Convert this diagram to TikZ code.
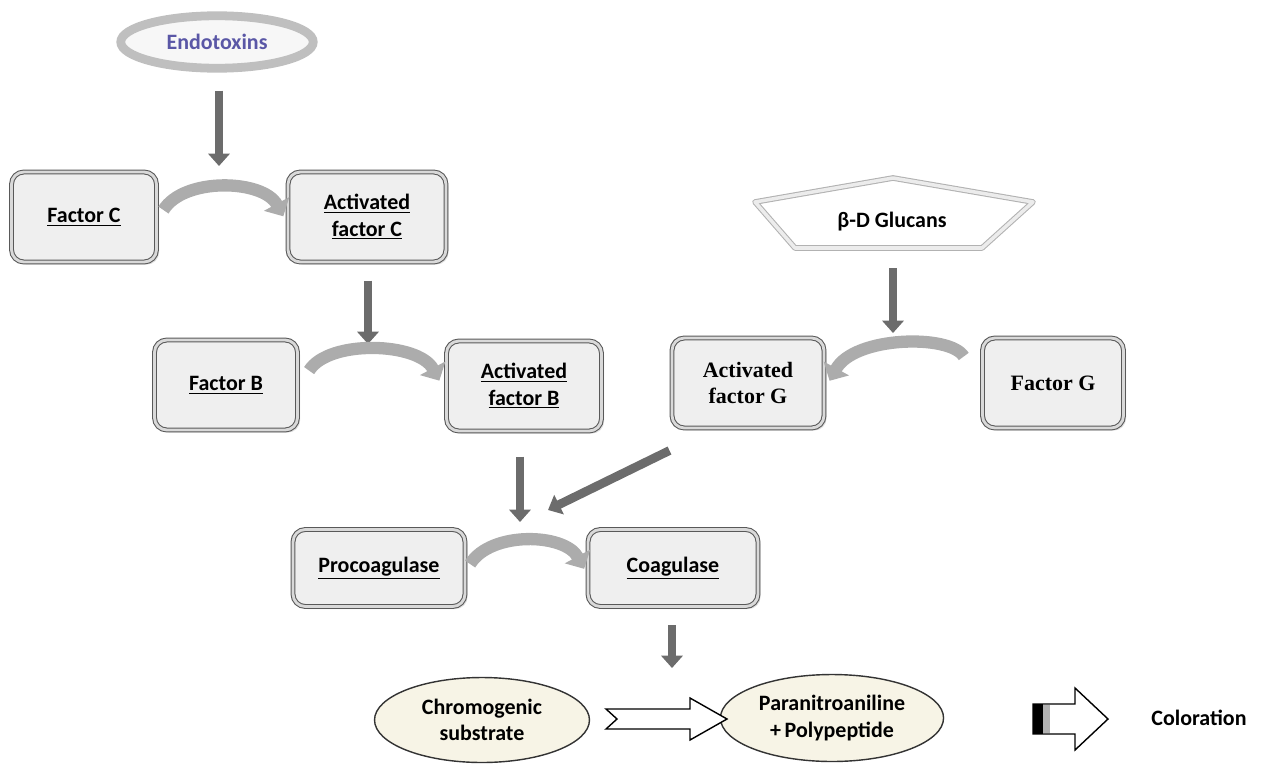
\documentclass[tikz,border=0pt]{standalone}
\usepackage{fontspec}
\setmainfont{Carlito}
\newfontfamily\timesfont{Liberation Serif}
\usepackage{tikz}
\usetikzlibrary{shapes}
\usetikzlibrary{arrows.meta}
\usetikzlibrary{shadows}
\definecolor{endoblue}{HTML}{5A57A6}
\definecolor{boxfill}{HTML}{EFEFEF}
\definecolor{cream}{HTML}{F7F4E6}
\definecolor{arrowgray}{HTML}{6C6C6C}
\tikzstyle{factor}=[rectangle,rounded corners=7pt,draw=gray!70!black,double=gray!30,double distance=1.6pt,line width=0.6pt,fill=boxfill,minimum height=1.8cm,align=center,font=\bfseries\fontsize{12.5}{15}\selectfont,drop shadow={opacity=0.25,shadow xshift=1.5pt,shadow yshift=-1.5pt}]
\tikzstyle{endo}=[ellipse,draw=gray!50,line width=5pt,fill=gray!6,minimum width=3.85cm,minimum height=1.05cm,text=endoblue,font=\bfseries\fontsize{12.5}{15}\selectfont]
\tikzstyle{product}=[ellipse,draw=black!80,line width=0.8pt,fill=cream,align=center,font=\bfseries\fontsize{12.5}{15}\selectfont]
\tikzstyle{down}=[draw=arrowgray,line width=5pt,-{Triangle[length=7pt,width=12pt]}]
\tikzstyle{turn}=[draw=gray!65,line width=7pt,-{Triangle[length=8pt,width=16pt]}]
\tikzstyle{glushape}=[draw=gray!60,double=gray!15,double distance=2pt,line width=0.6pt,fill=white,line join=round]
\tikzstyle{openarrow}=[draw=black,line width=0.8pt,fill=white,line join=miter]

\begin{document}
\begin{tikzpicture}[x=0.02cm,y=-0.02cm]
      \useasboundingbox (0,0) rectangle (1274,764);
      % endotoxin pathway
      \node[endo] at (217,42) (endo) {Endotoxins};
      \node[factor,minimum width=2.9cm] at (84,217) (fc) {\underline{Factor C}};
      \node[factor,minimum width=3.16cm] at (367,217) (afc) {\underline{Activated}\\\underline{factor C}};
      \node[factor,minimum width=2.86cm] at (226,385) (fb) {\underline{Factor B}};
      \node[factor,minimum width=3.1cm] at (524,386) (afb) {\underline{Activated}\\\underline{factor B}};
      % glucan pathway
      \draw[glushape] (755,202) -- (893,178) -- (1033,202) -- (982,248) -- (795,248) -- cycle;
      \node[minimum height=1.12cm,font=\bfseries\fontsize{12.5}{15}\selectfont] at (892,222) (glu) {β-D Glucans};
      \node[factor,minimum width=3.04cm,font=\timesfont\bfseries\fontsize{12.5}{15}\selectfont] at (748,383) (afg) {Activated\\factor G};
      \node[factor,minimum width=2.82cm,font=\timesfont\bfseries\fontsize{12.5}{15}\selectfont] at (1053,383) (fg) {Factor G};
      % common part
      \node[factor,minimum width=3.44cm,minimum height=1.54cm] at (379,568) (proc) {\underline{Procoagulase}};
      \node[factor,minimum width=3.4cm,minimum height=1.54cm] at (673,568) (coag) {\underline{Coagulase}};
      \node[product,minimum width=4.3cm,minimum height=1.7cm] at (482,720) (chrom) {Chromogenic\\substrate};
      \node[product,minimum width=3.72cm,minimum height=1.74cm] at (832,718) (pna) {Paranitroaniline\\+\,Polypeptide};
      \node[font=\bfseries\fontsize{12.5}{15}\selectfont] at (1199,718) (col) {Coloration};
      % ends of the straight arrows
      \coordinate (c1) at (219,166);
      \coordinate (c2) at (368,344);
      \coordinate (c3) at (520,522);
      \coordinate (c4) at (893,333);
      \coordinate (c5) at (548,510);
      \coordinate (c6) at (672,668);
      \draw[down] (endo.south -| c1) ++(0,18) -- (c1);
      \draw[down] (afc.south -| c2) ++(0,18) -- (c2);
      \draw[down] (afb.south -| c3) ++(0,25) -- (c3);
      \draw[down] (glu.south -| c4) ++(0,18) -- (c4);
      \draw[down] ([shift={(-2,22)}]afg.south west) -- (c5);
      \draw[down] (coag.south -| c6) ++(0,18) -- (c6);
      % curved arrows
      \draw[turn,shorten <=7pt,shorten >=5pt] ([yshift=-2]fc.east) to[bend left=60] ([yshift=-4]afc.west);
      \draw[turn,shorten <=12pt,shorten >=8pt] ([yshift=-2]fb.east) to[bend left=60] ([yshift=-4]afb.west);
      \draw[turn,shorten <=20pt,shorten >=6pt] ([yshift=-2]fg.west) to[bend right=60] ([yshift=-4]afg.east);
      \draw[turn,shorten <=5pt,shorten >=4pt] ([yshift=-2]proc.east) to[bend left=60] ([yshift=-4]coag.west);
      % open arrows
      \draw[openarrow] (606,709) -- (690,709) -- (690,698) -- (727,719) -- (690,740) -- (690,729) -- (606,729) -- (617,719) -- cycle;
      \draw[openarrow] (1033,704) -- (1075,704) -- (1075,688) -- (1108,719) -- (1075,750) -- (1075,734) -- (1033,734) -- cycle;
      \fill[black] (1033,704) rectangle (1043,734);
      \fill[gray!60] (1043,705) rectangle (1050,733);
\end{tikzpicture}
\end{document}
